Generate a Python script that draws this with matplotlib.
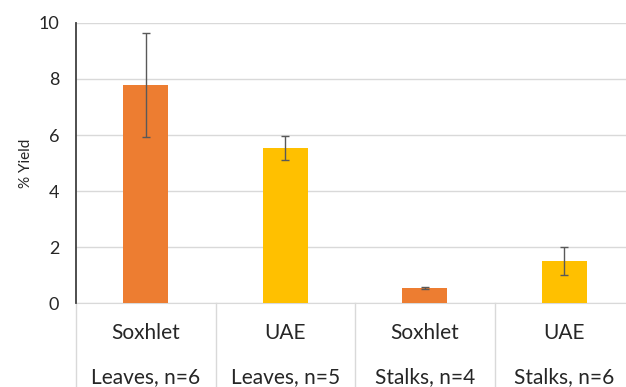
import numpy as np
import matplotlib.pyplot as plt

plt.rcParams['font.family'] = ['Lato', 'DejaVu Sans']

methods = ['Soxhlet', 'UAE', 'Soxhlet', 'UAE']
groups = ['Leaves, n=6', 'Leaves, n=5', 'Stalks, n=4', 'Stalks, n=6']
yield_pct = [7.78, 5.52, 0.54, 1.50]
yield_err = [1.86, 0.43, 0.03, 0.51]
colors = ['#ED7D31', '#FFC000', '#ED7D31', '#FFC000']

fig = plt.figure(figsize=(6.26, 3.87), dpi=100)
ax = fig.add_axes([0.1214, 0.217, 0.8914, 0.7236])

x = np.arange(len(yield_pct))
ax.bar(x, yield_pct, width=0.32, color=colors, zorder=3)
ax.errorbar(x, yield_pct, yerr=yield_err, fmt='none', ecolor='#595959',
            elinewidth=1, capsize=3, capthick=1, zorder=4)

ax.set_xlim(-0.5, 3.5)
ax.set_ylim(0, 10)
ax.set_yticks(range(0, 11, 2))
ax.yaxis.grid(True, color='#d9d9d9', linewidth=1, zorder=0)
ax.tick_params(axis='y', length=0, pad=12, labelsize=13, labelcolor='#262626')
ax.set_xticks([])
for s in ['top', 'right']:
    ax.spines[s].set_visible(False)
ax.spines['left'].set_color('#404040')
ax.spines['left'].set_linewidth(1.3)
ax.spines['left'].set_zorder(5)
ax.spines['bottom'].set_color('#d9d9d9')
ax.set_ylabel('% Yield', fontsize=11, color='#262626', labelpad=4)

# two-level category axis
trans = ax.get_xaxis_transform()
for b in np.arange(-0.5, 4, 1.0):
    ax.plot([b, b], [0, -0.32], transform=trans, color='#d9d9d9',
            linewidth=1, clip_on=False)
for i in x:
    ax.text(i, -0.107, methods[i], transform=trans, ha='center', va='center',
            fontsize=15, color='#262626')
    ax.text(i, -0.264, groups[i], transform=trans, ha='center', va='center',
            fontsize=15, color='#262626')

fig.savefig('out.png', dpi=100)
